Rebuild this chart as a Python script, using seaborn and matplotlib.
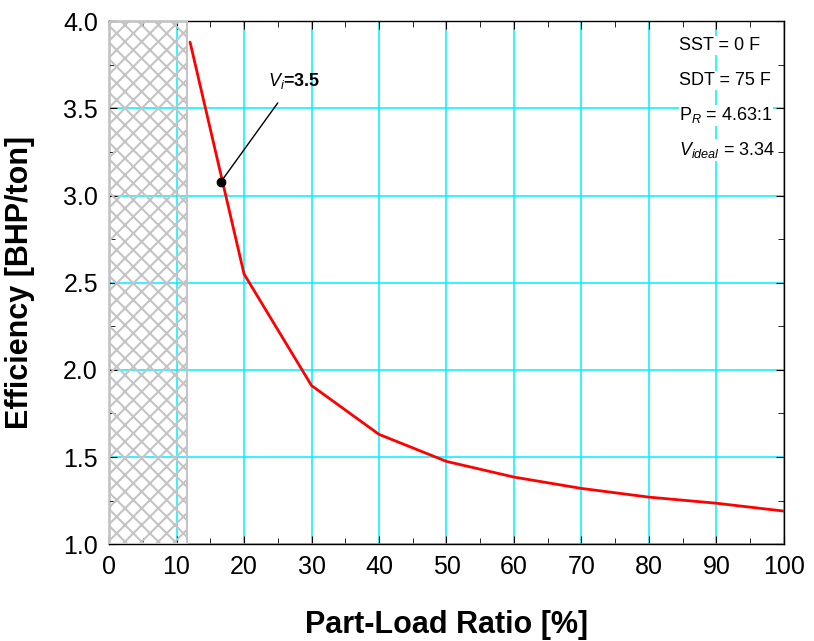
import matplotlib
matplotlib.use("Agg")
import matplotlib.pyplot as plt
import seaborn as sns
import pandas as pd
from matplotlib.ticker import MultipleLocator

# data
load_pct = [12, 20, 30, 40, 50, 60, 70, 80, 90, 100]
efficiency = [3.88, 2.55, 1.91, 1.63, 1.475, 1.385, 1.32, 1.27, 1.235, 1.19]
vi_point = (16.6, 3.08)
vi_label = "$V_i$=3.5"
unload_limit = 11.5
info_lines = ["SST = 0 F", "SDT = 75 F", "P$_R$ = 4.63:1", "$V_{ideal}$ = 3.34"]

df = pd.DataFrame({"load": load_pct, "eff": efficiency})

sns.set_style("ticks")
plt.rcParams["font.family"] = ["Liberation Sans", "DejaVu Sans"]
plt.rcParams["mathtext.fontset"] = "custom"
plt.rcParams["mathtext.rm"] = "Liberation Sans"
plt.rcParams["mathtext.it"] = "Liberation Sans:italic"
plt.rcParams["hatch.color"] = "#c4c4c4"
plt.rcParams["hatch.linewidth"] = 1.5
for key in ["text.color", "axes.labelcolor", "xtick.color", "ytick.color"]:
    plt.rcParams[key] = "black"

fig = plt.figure(figsize=(8.14, 6.41), dpi=100)
ax = fig.add_axes([0.134, 0.151, 0.829, 0.816])

ax.axvspan(0, unload_limit, facecolor="none", edgecolor="#c4c4c4", hatch="xx", linewidth=1.5, zorder=3)
sns.lineplot(data=df, x="load", y="eff", color="red", linewidth=2, ax=ax, zorder=4)
ax.plot(*vi_point, "o", color="black", markersize=6, zorder=5)
ax.annotate(vi_label, xy=vi_point, xytext=(23.5, 3.63), fontsize=13, fontweight="bold",
            arrowprops=dict(arrowstyle="-", color="black", lw=1, shrinkA=8, shrinkB=0), zorder=5)

ax.set_xlim(0, 100)
ax.set_ylim(1.0, 4.0)
ax.xaxis.set_major_locator(MultipleLocator(10))
ax.xaxis.set_minor_locator(MultipleLocator(5))
ax.yaxis.set_major_locator(MultipleLocator(0.5))
ax.yaxis.set_minor_locator(MultipleLocator(0.25))
ax.yaxis.set_major_formatter(matplotlib.ticker.FormatStrFormatter("%.1f"))
ax.grid(True, which="major", color="#00f0ff", linewidth=1.1, zorder=1)
ax.set_axisbelow(True)
ax.tick_params(which="both", direction="in", top=True, right=True, labelsize=18, pad=8)
ax.tick_params(which="major", length=6)
ax.tick_params(which="minor", length=4)
for s in ax.spines.values():
    s.set_linewidth(1)
    s.set_color("black")

ax.set_xlabel("Part-Load Ratio [%]", fontsize=22, fontweight="bold", labelpad=22)
ax.set_ylabel("Efficiency [BHP/ton]", fontsize=22, fontweight="bold", labelpad=20)

for i, line in enumerate(info_lines):
    ax.text(84.5, 3.86 - i * 0.2, line, fontsize=13, va="center", ha="left", zorder=6,
            bbox=dict(facecolor="white", edgecolor="none", pad=0.5))

fig.savefig("out.png", dpi=100)
